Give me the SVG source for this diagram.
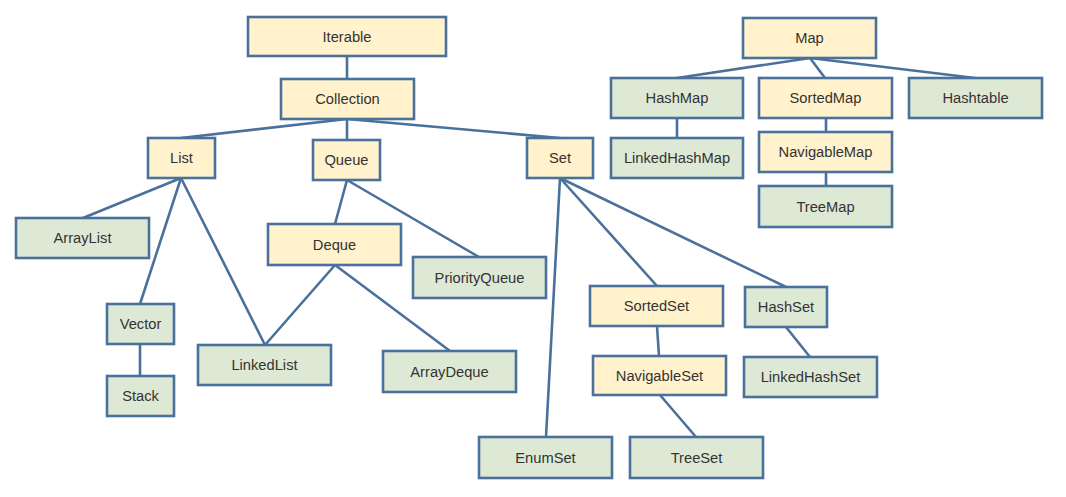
<svg xmlns="http://www.w3.org/2000/svg" width="1066" height="497" viewBox="0 0 1066 497">
<style>
.n rect{stroke:#4a719b;stroke-width:2.6}
.y rect{fill:#fff2cc}
.g rect{fill:#dde9d5}
.n text{font-family:"Liberation Sans",Arial,sans-serif;font-size:14.7px;fill:#333;text-anchor:middle}
#edges line{stroke:#4a719b;stroke-width:2.6;stroke-linecap:round}
</style>
<rect width="1066" height="497" fill="#fff"/>
<g id="edges">
<line x1="347" y1="56" x2="347" y2="79"/>
<line x1="347" y1="119" x2="181" y2="138"/>
<line x1="347" y1="119" x2="347" y2="140"/>
<line x1="347" y1="119" x2="560" y2="138"/>
<line x1="181" y1="178" x2="83" y2="218"/>
<line x1="181" y1="178" x2="140" y2="304"/>
<line x1="181" y1="178" x2="265" y2="345"/>
<line x1="347" y1="180" x2="335" y2="224"/>
<line x1="347" y1="180" x2="479" y2="257"/>
<line x1="335" y1="265" x2="265" y2="345"/>
<line x1="335" y1="265" x2="450" y2="351"/>
<line x1="140" y1="344" x2="140" y2="376"/>
<line x1="560" y1="178" x2="546" y2="437"/>
<line x1="560" y1="178" x2="657" y2="286"/>
<line x1="560" y1="178" x2="786" y2="287"/>
<line x1="657" y1="326" x2="659" y2="356"/>
<line x1="660" y1="395" x2="696" y2="437"/>
<line x1="786" y1="327" x2="810" y2="357"/>
<line x1="810" y1="58" x2="677" y2="78"/>
<line x1="810" y1="58" x2="825" y2="78"/>
<line x1="810" y1="58" x2="975" y2="78"/>
<line x1="677" y1="118" x2="677" y2="138"/>
<line x1="826" y1="118" x2="826" y2="132"/>
<line x1="826" y1="172" x2="826" y2="186"/>
</g>
<g id="iterable" class="n y"><rect x="248" y="17" width="198" height="39"/><text x="347" y="41.5">Iterable</text></g>
<g id="collection" class="n y"><rect x="281" y="79" width="133" height="40"/><text x="347.5" y="104">Collection</text></g>
<g id="list" class="n y"><rect x="148" y="138" width="67" height="40"/><text x="181.5" y="163">List</text></g>
<g id="queue" class="n y"><rect x="313" y="140" width="67" height="40"/><text x="346.5" y="165">Queue</text></g>
<g id="set" class="n y"><rect x="527" y="138" width="66" height="40"/><text x="560" y="163">Set</text></g>
<g id="arraylist" class="n g"><rect x="16" y="218" width="133" height="40"/><text x="82.5" y="243">ArrayList</text></g>
<g id="deque" class="n y"><rect x="268" y="224" width="133" height="41"/><text x="334.5" y="249.5">Deque</text></g>
<g id="priorityqueue" class="n g"><rect x="413" y="257" width="133" height="41"/><text x="479.5" y="282.5">PriorityQueue</text></g>
<g id="vector" class="n g"><rect x="107" y="304" width="67" height="40"/><text x="140.5" y="329">Vector</text></g>
<g id="stack" class="n g"><rect x="107" y="376" width="67" height="40"/><text x="140.5" y="401">Stack</text></g>
<g id="linkedlist" class="n g"><rect x="198" y="345" width="133" height="40"/><text x="264.5" y="370">LinkedList</text></g>
<g id="arraydeque" class="n g"><rect x="383" y="351" width="133" height="41"/><text x="449.5" y="376.5">ArrayDeque</text></g>
<g id="sortedset" class="n y"><rect x="590" y="286" width="133" height="40"/><text x="656.5" y="311">SortedSet</text></g>
<g id="hashset" class="n g"><rect x="745" y="287" width="82" height="40"/><text x="786" y="312">HashSet</text></g>
<g id="navigableset" class="n y"><rect x="593" y="356" width="133" height="39"/><text x="659.5" y="380.5">NavigableSet</text></g>
<g id="linkedhashset" class="n g"><rect x="744" y="357" width="133" height="40"/><text x="810.5" y="382">LinkedHashSet</text></g>
<g id="enumset" class="n g"><rect x="479" y="437" width="133" height="41"/><text x="545.5" y="462.5">EnumSet</text></g>
<g id="treeset" class="n g"><rect x="630" y="437" width="133" height="41"/><text x="696.5" y="462.5">TreeSet</text></g>
<g id="map" class="n y"><rect x="743" y="18" width="133" height="40"/><text x="809.5" y="43">Map</text></g>
<g id="hashmap" class="n g"><rect x="611" y="78" width="132" height="40"/><text x="677" y="103">HashMap</text></g>
<g id="sortedmap" class="n y"><rect x="759" y="78" width="133" height="40"/><text x="825.5" y="103">SortedMap</text></g>
<g id="hashtable" class="n g"><rect x="909" y="78" width="133" height="40"/><text x="975.5" y="103">Hashtable</text></g>
<g id="linkedhashmap" class="n g"><rect x="611" y="138" width="132" height="40"/><text x="677" y="163">LinkedHashMap</text></g>
<g id="navigablemap" class="n y"><rect x="759" y="132" width="133" height="40"/><text x="825.5" y="157">NavigableMap</text></g>
<g id="treemap" class="n g"><rect x="759" y="186" width="133" height="41"/><text x="825.5" y="211.5">TreeMap</text></g>
</svg>
